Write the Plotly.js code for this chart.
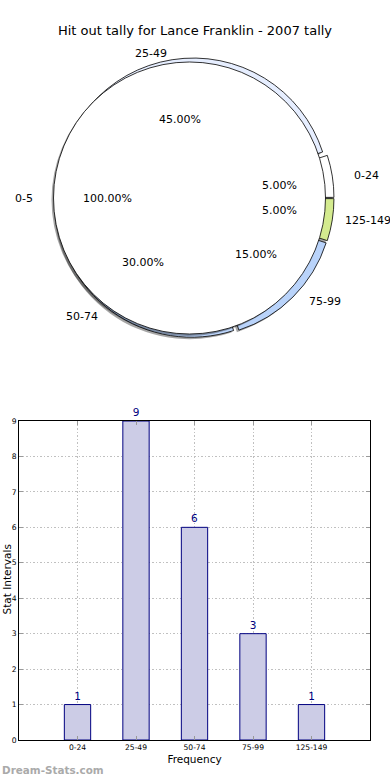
<!DOCTYPE html>
<html>
<head>
<meta charset="utf-8">
<script src="https://cdn.plot.ly/plotly-3.0.1.min.js"></script>
<style>html,body{margin:0;padding:0;background:#fff;}#chart{width:390px;height:780px;}</style>
</head>
<body>
<div id="chart"></div>
<script>
// ---- data ----
const categories = ["0-24", "25-49", "50-74", "75-99", "125-149"];
const counts = [1, 9, 6, 3, 1];
const sliceColors = ["#ffffff", "#e6eeff", "#bcd5fb", "#b9d3fa", "#d4eb8f"];
const innerLabels = ["0-5"];
const innerValues = [1];
const titleText = "Hit out tally for Lance Franklin - 2007 tally";
const xTitle = "Frequency";
const yTitle = "Stat Intervals";
const watermark = "Dream-Stats.com";
const yTicks = [0, 1, 2, 3, 4, 5, 6, 7, 8, 9];

// ---- layout helpers ----
const W = 390, H = 780;
function dom(cx, cy, r) {
  return {x: [(cx - r) / W, (cx + r) / W], y: [1 - (cy + r) / H, 1 - (cy - r) / H]};
}
const FONT = "DejaVu Sans, sans-serif";
const cx = 194, cy = 198, R = 140;
const pullArr = categories.map(() => 0.03);

const outerCommon = {type: "pie", sort: false, direction: "counterclockwise", rotation: 72,
  hoverinfo: "skip", showlegend: false, textinfo: "none"};
const innerCommon = {type: "pie", sort: false, direction: "counterclockwise", rotation: 90,
  hoverinfo: "skip", showlegend: false, textinfo: "none"};

const traces = [
  // outer shadow
  Object.assign({}, outerCommon, {
    labels: categories, values: counts, pull: pullArr,
    domain: dom(cx - 2, cy + 2, R),
    marker: {colors: categories.map(() => "rgba(0,0,0,0.35)"), line: {width: 0}}
  }),
  // outer ring
  Object.assign({}, outerCommon, {
    labels: categories, values: counts, pull: pullArr,
    domain: dom(cx, cy, R),
    marker: {colors: sliceColors, line: {color: "#000", width: 0.8}}
  }),
  // inner shadow
  Object.assign({}, innerCommon, {
    labels: innerLabels, values: innerValues,
    domain: dom(cx - 6.5, cy + 2, R - 4),
    marker: {colors: ["rgba(0,0,0,0.35)"], line: {width: 0}}
  }),
  // inner pie
  Object.assign({}, innerCommon, {
    labels: innerLabels, values: innerValues,
    domain: dom(cx - 4.5, cy, R - 4),
    marker: {colors: ["#ffffff"], line: {color: "#000", width: 0.8}}
  }),
  // bars
  {
    type: "bar", x: categories, y: counts, width: 0.45,
    marker: {color: "#cccce6", line: {color: "#000080", width: 1}},
    text: counts.map(String), textposition: "outside", cliponaxis: false,
    textfont: {family: FONT, size: 10.5, color: "#000080"},
    hoverinfo: "skip", showlegend: false
  }
];

// ---- pie text annotations, placed from the data (label at 1.1 r, percent at 0.6 r) ----
const RX = 145, RY = 133;
function pieText(labels, values) {
  const out = [];
  const total = values.reduce((a, b) => a + b, 0);
  let cum = 0;
  labels.forEach((lab, i) => {
    const frac = values[i] / total;
    const mid = (cum + frac / 2) * 2 * Math.PI;
    cum += frac;
    const a = labels.length === 1 ? Math.PI : mid;
    const c = Math.cos(a), s = Math.sin(a);
    let lx = cx + 1.1 * RX * c;
    const ly = cy - 1.1 * RY * s;
    const left = c > 0;
    const estW = lab.length * 6.6;
    if (left && lx + estW > W - 1) lx = W - 1 - estW;
    out.push({text: lab, xref: "paper", yref: "paper", x: lx / W, y: 1 - ly / H,
      xanchor: left ? "left" : "right", yanchor: "middle", showarrow: false,
      font: {family: FONT, size: 11, color: "#000"}});
    const px = cx + 0.6 * RX * c, py = cy - 0.6 * RY * s;
    out.push({text: (frac * 100).toFixed(2) + "%", xref: "paper", yref: "paper",
      x: px / W, y: 1 - py / H, xanchor: "center", yanchor: "middle", showarrow: false,
      font: {family: FONT, size: 11, color: "#000"}});
  });
  return out;
}

const layout = {
  width: W, height: H,
  margin: {l: 0, r: 0, t: 0, b: 0},
  paper_bgcolor: "#fff", plot_bgcolor: "#fff",
  font: {family: FONT, color: "#000"},
  title: {text: titleText, x: 0.5, xanchor: "center", y: 1 - 30 / H, yanchor: "middle",
    font: {family: FONT, size: 13, color: "#000"}},
  showlegend: false,
  xaxis: {
    domain: [19 / W, 370 / W], anchor: "y", type: "category", range: [-1, 5],
    showline: true, linecolor: "#000", linewidth: 1, mirror: "allticks",
    ticks: "inside", ticklen: 4, tickcolor: "#999",
    showgrid: true, gridcolor: "#c0c0c0", griddash: "1.5px,2px", gridwidth: 1,
    tickfont: {family: FONT, size: 7.6, color: "#000"},
    title: {text: xTitle, font: {family: FONT, size: 10.5, color: "#000"}, standoff: 4},
    fixedrange: true
  },
  yaxis: {
    domain: [1 - 740 / H, 1 - 421 / H], anchor: "x", range: [0, 9],
    tickvals: yTicks, ticktext: yTicks.map(String),
    showline: true, linecolor: "#000", linewidth: 1, mirror: "allticks",
    ticks: "inside", ticklen: 4, tickcolor: "#999",
    showgrid: true, gridcolor: "#c0c0c0", griddash: "1.5px,2px", gridwidth: 1,
    zeroline: false,
    tickfont: {family: FONT, size: 7.6, color: "#000"},
    fixedrange: true
  },
  annotations: [
    {text: yTitle, xref: "paper", yref: "paper", x: 6.5 / W, y: 1 - 580 / H,
      xanchor: "center", yanchor: "middle", textangle: -90, showarrow: false,
      font: {family: FONT, size: 10.5, color: "#000"}},
    {text: "<b>" + watermark + "</b>", xref: "paper", yref: "paper", x: 0, y: 1 - 770 / H,
      xanchor: "left", yanchor: "middle", showarrow: false,
      font: {family: FONT, size: 10.4, color: "#aaa"}}
  ].concat(pieText(categories, counts), pieText(innerLabels, innerValues))
};

Plotly.newPlot("chart", traces, layout, {staticPlot: true, displayModeBar: false});
</script>
</body>
</html>
